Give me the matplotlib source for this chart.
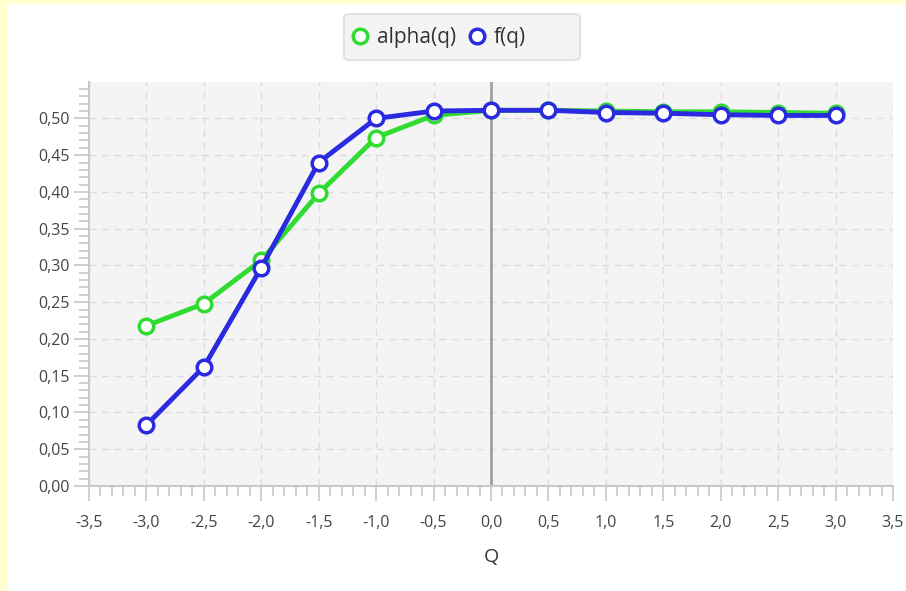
import matplotlib
matplotlib.use("Agg")
import matplotlib.pyplot as plt
from matplotlib.patches import Rectangle, FancyBboxPatch
from matplotlib.ticker import MultipleLocator, FuncFormatter

plt.rcParams["font.family"] = ["Open Sans", "DejaVu Sans"]

# Data
q = [-3.0, -2.5, -2.0, -1.5, -1.0, -0.5, 0.0, 0.5, 1.0, 1.5, 2.0, 2.5, 3.0]
alpha_q = [0.218, 0.248, 0.307, 0.398, 0.474, 0.504, 0.511, 0.511, 0.510, 0.509, 0.509, 0.508, 0.507]
f_q = [0.083, 0.162, 0.297, 0.440, 0.500, 0.510, 0.511, 0.511, 0.508, 0.507, 0.505, 0.504, 0.504]

fig = plt.figure(figsize=(9.06, 5.91), dpi=100)
fig.patch.set_facecolor("white")

# yellow frame on the left and top of the window
fig.patches.append(Rectangle((0, 0), 6 / 906, 1, transform=fig.transFigure, color="#ffffd0", zorder=0))
fig.patches.append(Rectangle((0, 1 - 3 / 591), 1, 3 / 591, transform=fig.transFigure, color="#ffffd0", zorder=0))

# legend box (drawn by hand, it is wider than its content)
fig.patches.append(FancyBboxPatch((344 / 906, 1 - 60 / 591), 236 / 906, 46 / 591,
                                  boxstyle="round,pad=0,rounding_size=0.006",
                                  transform=fig.transFigure, facecolor="#f4f4f4",
                                  edgecolor="#dedede", linewidth=1.2, zorder=1))

ax = fig.add_axes([89 / 906, 1 - 486 / 591, 804 / 906, 404 / 591])
ax.set_facecolor("#f4f4f4")

ax.axvline(0, color="#a0a0a0", linewidth=2, zorder=1)
ax.plot(q, alpha_q, color="#2fdc2f", linewidth=3.5, marker="o", markersize=10.5,
        markerfacecolor="white", markeredgecolor="#2fdc2f", markeredgewidth=2.5,
        label="alpha(q)", zorder=3)
ax.plot(q, f_q, color="#2a2ae0", linewidth=3.5, marker="o", markersize=10.5,
        markerfacecolor="white", markeredgecolor="#2a2ae0", markeredgewidth=2.5,
        label="f(q)", zorder=4)

ax.set_xlim(-3.5, 3.5)
ax.set_ylim(0, 0.5495)
ax.xaxis.set_major_locator(MultipleLocator(0.5))
ax.xaxis.set_minor_locator(MultipleLocator(0.1))
ax.yaxis.set_major_locator(MultipleLocator(0.05))
ax.yaxis.set_minor_locator(MultipleLocator(0.01))
ax.xaxis.set_major_formatter(FuncFormatter(lambda v, p: f"{v:.1f}".replace(".", ",")))
ax.yaxis.set_major_formatter(FuncFormatter(lambda v, p: f"{v:.2f}".replace(".", ",")))

ax.grid(True, which="major", color="#dcdcdc", linestyle=(0, (5, 4)), linewidth=1)
ax.set_axisbelow(True)

for side in ["top", "right"]:
    ax.spines[side].set_visible(False)
for side in ["left", "bottom"]:
    ax.spines[side].set_color("#c8c8c8")
    ax.spines[side].set_linewidth(1.5)

ax.tick_params(which="major", length=11, width=1.2, color="#c8c8c8", labelsize=11.5, labelcolor="#444444")
ax.tick_params(which="minor", length=7, width=1.2, color="#c8c8c8")
ax.tick_params(axis="y", which="major", pad=3)
ax.tick_params(axis="x", which="major", pad=10)

ax.set_xlabel("Q", fontsize=14, color="#333333", labelpad=12)

leg = fig.legend(loc="center left", bbox_to_anchor=(351 / 906, 1 - 38 / 591), ncol=2, frameon=False,
                 fontsize=15, handlelength=0.9, handletextpad=0.35, columnspacing=0.55,
                 borderpad=0.0, borderaxespad=0.0)
for h in leg.legend_handles:
    h.set_linestyle("none")
for t in leg.get_texts():
    t.set_color("#333333")

fig.savefig("out.png", dpi=100)
